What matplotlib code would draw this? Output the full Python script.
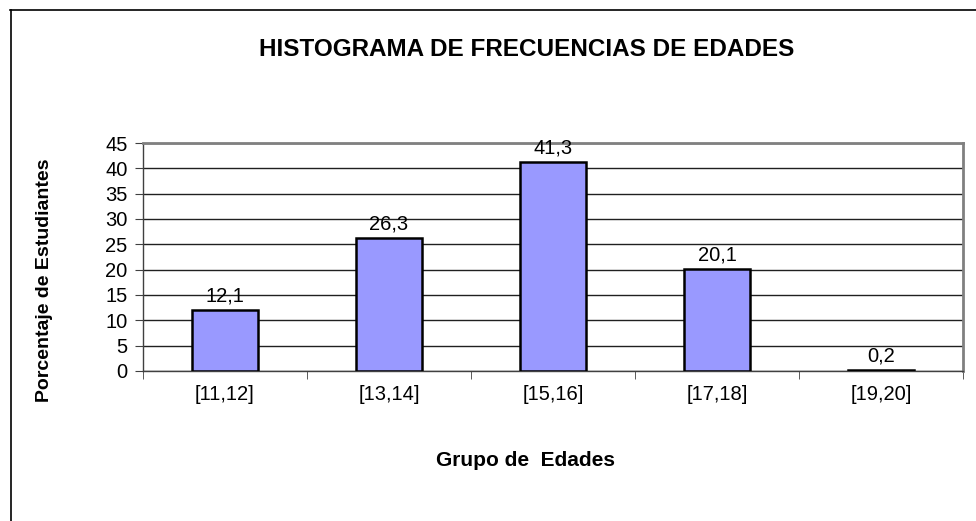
import matplotlib
matplotlib.use("Agg")
import matplotlib.pyplot as plt
from matplotlib.lines import Line2D
import numpy as np

plt.rcParams['font.family'] = ['Liberation Sans', 'DejaVu Sans']

# datos
grupos = ["[11,12]", "[13,14]", "[15,16]", "[17,18]", "[19,20]"]
porcentajes = [12.1, 26.3, 41.3, 20.1, 0.2]
etiquetas = ["12,1", "26,3", "41,3", "20,1", "0,2"]

W, H = 976, 521
fig = plt.figure(figsize=(W / 100, H / 100), dpi=100)
ax = fig.add_axes([143 / W, 1 - 371 / H, (963 - 143) / W, (371 - 143) / H])

x = np.arange(len(grupos))
ax.bar(x, porcentajes, width=0.4, color="#9999FF", edgecolor="black", linewidth=1.8, zorder=3)

for xi, v, t in zip(x, porcentajes, etiquetas):
    ax.annotate(t, (xi, v), xytext=(0, 3), textcoords="offset points",
                ha="center", va="bottom", fontsize=14.5, zorder=4)

ax.set_xlim(-0.5, len(grupos) - 0.5)
ax.set_ylim(0, 45)
ax.set_yticks(range(0, 46, 5))
ax.yaxis.grid(True, color="#202020", linewidth=1)
ax.set_axisbelow(True)

ax.set_xticks(x)
ax.set_xticklabels(grupos, fontsize=14.5)
ax.set_xticks(np.arange(-0.5, len(grupos), 1), minor=True)
ax.tick_params(axis="x", which="major", length=0, pad=10)
ax.tick_params(axis="x", which="minor", length=6, color="#404040")
ax.tick_params(axis="y", length=6, color="#404040", labelsize=14.5, pad=5)

for s in ["left", "bottom"]:
    ax.spines[s].set_color("#404040")
    ax.spines[s].set_linewidth(1)
for s in ["top", "right"]:
    ax.spines[s].set_color("#808080")
    ax.spines[s].set_linewidth(2)

fig.text(527 / W, 1 - 50 / H, "HISTOGRAMA DE FRECUENCIAS DE EDADES",
         ha="center", va="center", fontsize=17.5, fontweight="bold")
fig.text(525 / W, 1 - 460 / H, "Grupo de  Edades",
         ha="center", va="center", fontsize=15, fontweight="bold")
fig.text(45 / W, 1 - 280 / H, "Porcentaje de Estudiantes",
         ha="center", va="center", rotation=90, fontsize=14, fontweight="bold")

# marco exterior
fig.add_artist(Line2D([10 / W, 1], [1 - 10 / H, 1 - 10 / H], transform=fig.transFigure,
                      color="black", linewidth=1.2))
fig.add_artist(Line2D([10.5 / W, 10.5 / W], [0, 1 - 10 / H], transform=fig.transFigure,
                      color="black", linewidth=1.2))

fig.savefig("out.png", dpi=100)
